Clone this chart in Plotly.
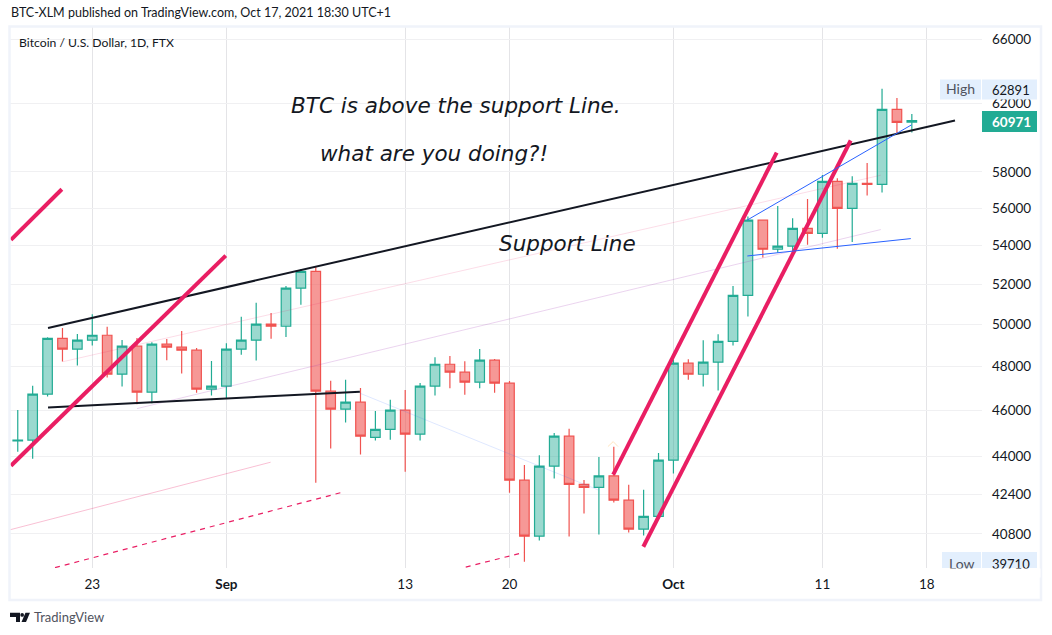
import pandas as pd
import plotly.graph_objects as go

FONT = "Lato"
BIG_FONT = "DejaVu Sans"
INK = "#131722"
GREEN = "#22ab94"
RED = "#f05350"

dates = pd.date_range("2021-08-18", "2021-10-17", freq="D").strftime("%Y-%m-%d").tolist()

opens = [44660, 44690, 46730, 49340, 48820, 49247, 49485, 47647, 48963, 46823, 49060, 48917, 48775, 46960,
         47095, 48820, 49247, 50020, 49920, 51800, 52660, 46868, 46054, 46368, 44810, 45160, 46010, 44950,
         47100, 48110, 47740, 47280, 48300, 47235, 42985, 40705, 43570, 44860, 42810, 42685, 43160, 42155,
         40985, 41495, 43825, 48160, 47645, 48205, 49190, 51445, 55340, 53800, 53960, 54900, 54640, 57470,
         55980, 57360, 57305, 61640, 60880]
highs = [46020, 47110, 49390, 49840, 49550, 50510, 49890, 49260, 49350, 49155, 49300, 49695, 48870, 48265,
         49105, 50380, 51070, 50570, 51915, 52780, 52890, 47340, 47385, 47010, 45975, 46480, 46920, 47240,
         48440, 48500, 48250, 48830, 48360, 47330, 43625, 44040, 45000, 45190, 42990, 43965, 44400, 42790,
         42580, 44135, 48315, 48345, 49240, 49535, 51915, 55540, 55360, 56110, 55440, 56500, 57830, 57645,
         57760, 58510, 62891, 62320, 61360]
lows = [44190, 43890, 46620, 48234, 48050, 48990, 47490, 47080, 46280, 46320, 48300, 47675, 46795, 46670,
        46550, 48560, 48280, 49320, 49400, 50976, 42880, 44322, 45460, 44065, 44670, 44710, 43340, 44670,
        46670, 47000, 46710, 47000, 46800, 42465, 39710, 40530, 43050, 40690, 41610, 40770, 42060, 40850,
        40730, 41475, 43260, 47395, 47080, 46900, 48990, 50390, 53370, 53620, 53680, 54030, 54410, 53820,
        54180, 56680, 56850, 60220, 60270]
closes = [44690, 46730, 49340, 48820, 49247, 49485, 47647, 48963, 46823, 49060, 48917, 48775, 46960, 47095,
          48820, 49247, 50020, 49920, 51800, 52660, 46868, 46054, 46368, 44860, 45160, 46010, 44950, 47100,
          48110, 47740, 47280, 48300, 47235, 42985, 40705, 43570, 44860, 42810, 42685, 43160, 42155, 40985,
          41495, 43825, 48160, 47645, 48205, 49190, 51445, 55340, 53800, 53960, 54900, 54640, 57470, 55980,
          57360, 57305, 61640, 60860, 60971]

price_ticks = [66000, 62000, 58000, 56000, 54000, 52000, 50000, 48000, 46000, 44000, 42400, 40800]
date_ticks = ["2021-08-23", "2021-09-01", "2021-09-13", "2021-09-20", "2021-10-01", "2021-10-11", "2021-10-18"]
date_labels = ["23", "<b>Sep</b>", "13", "20", "<b>Oct</b>", "11", "18"]

# drawings: (dates, prices, colour, width, dash)
support_upper_d = ["2021-08-20 00:45", "2021-10-19 21:30"]
support_upper_p = [49840, 60970]
support_lower_d = ["2021-08-20 00:45", "2021-09-09 23:00"]
support_lower_p = [46130, 46840]
pink_a_d = ["2021-08-17 13:00", "2021-08-31 23:00"]
pink_a_p = [43590, 53470]
pink_b_d = ["2021-08-17 13:00", "2021-08-20 23:00"]
pink_b_p = [54290, 57030]
pink_c_d = ["2021-09-26 23:00", "2021-10-07 22:20"]
pink_c_p = [43215, 59100]
pink_d_d = ["2021-09-28 23:30", "2021-10-12 21:30"]
pink_d_p = [40290, 59800]
blue_a_d = ["2021-10-05 23:00", "2021-10-16 23:15"]
blue_a_p = [55350, 60710]
blue_b_d = ["2021-10-05 23:00", "2021-10-16 22:20"]
blue_b_p = [53450, 54360]
faint_pink_d = ["2021-08-21 00:45", "2021-10-14 22:00"]
faint_pink_p = [48230, 57815]
faint_purple_d = ["2021-08-26 00:00", "2021-10-14 22:00"]
faint_purple_p = [46080, 54840]
faint_blue_d = ["2021-09-09 23:00", "2021-09-25 22:30"]
faint_blue_p = [46775, 42580]
thin_pink_d = ["2021-08-17 11:30", "2021-09-03 23:15"]
thin_pink_p = [40960, 43740]
dash_a_d = ["2021-08-20 12:00", "2021-09-08 23:00"]
dash_a_p = [39480, 42510]
dash_b_d = ["2021-09-17 01:30", "2021-09-20 23:15"]
dash_b_p = [39500, 40070]
chevron_d = ["2021-09-26 14:30", "2021-09-26 23:00", "2021-09-27 06:45"]
chevron_p = [44410, 44625, 44410]

PINK = "#e91e63"
drawings = [
    (faint_pink_d, faint_pink_p, "rgba(233,30,99,0.15)", 1, "solid"),
    (faint_purple_d, faint_purple_p, "rgba(156,39,176,0.2)", 1, "solid"),
    (faint_blue_d, faint_blue_p, "rgba(41,98,255,0.15)", 1, "solid"),
    (thin_pink_d, thin_pink_p, "rgba(233,30,99,0.28)", 1, "solid"),
    (dash_a_d, dash_a_p, PINK, 1.2, "5px,5px"),
    (dash_b_d, dash_b_p, PINK, 1.2, "5px,5px"),
    (chevron_d, chevron_p, "rgba(255,152,0,0.25)", 1, "solid"),
    (support_upper_d, support_upper_p, INK, 2, "solid"),
    (support_lower_d, support_lower_p, INK, 2, "solid"),
    (pink_a_d, pink_a_p, PINK, 4, "solid"),
    (pink_b_d, pink_b_p, PINK, 4, "solid"),
    (pink_c_d, pink_c_p, PINK, 4, "solid"),
    (pink_d_d, pink_d_p, PINK, 4, "solid"),
    (blue_a_d, blue_a_p, "#2962ff", 1, "solid"),
    (blue_b_d, blue_b_p, "#2962ff", 1, "solid"),
]

L, R, T, B = 10, 982, 26, 568
def px(x):
    return (x - L) / (R - L)
def py(y):
    return (B - y) / (B - T)

fig = go.Figure()
fig.add_trace(go.Candlestick(
    x=dates, open=opens, high=highs, low=lows, close=closes,
    increasing=dict(line=dict(color=GREEN, width=1.2), fillcolor="rgba(34,171,148,0.45)"),
    decreasing=dict(line=dict(color=RED, width=1.2), fillcolor="rgba(240,83,80,0.6)"),
    whiskerwidth=0, showlegend=False, hoverinfo="skip"))
for d, p, c, w, dash in drawings:
    fig.add_trace(go.Scatter(x=d, y=p, mode="lines", showlegend=False, hoverinfo="skip",
                             line=dict(color=c, width=w, dash=dash)))

def rect(x0, y0, x1, y1, fill, line=None, lw=0, **kw):
    return dict(type="rect", xref="paper", yref="paper", x0=px(x0), x1=px(x1), y0=py(y1), y1=py(y0),
                fillcolor=fill, line=dict(color=line or fill, width=lw), layer="above", **kw)

def poly(points, fill):
    path = "M " + " L ".join(f"{px(a):.5f},{py(b):.5f}" for a, b in points) + " Z"
    return dict(type="path", xref="paper", yref="paper", path=path, fillcolor=fill,
                line=dict(width=0), layer="above")

shapes = [
    rect(9.5, 26.5, 1041, 600, "rgba(0,0,0,0)", "#f0f3fa", 2.5),
    rect(940, 79.5, 981, 99.5, "#e3effd"),
    rect(982, 79.5, 1037, 99.5, "#e3effd"),
    rect(982, 111, 1037, 132, GREEN),
    rect(942, 552, 981, 568, "#e3effd"),
    rect(982, 552, 1037, 568, "#e3effd"),
    poly([(10, 612.7), (20, 612.7), (20, 622), (16, 622), (16, 617), (10, 617)], INK),
    poly([(25.5, 612.7), (30, 612.7), (26, 622), (21.5, 622)], INK),
    dict(type="circle", xref="paper", yref="paper", x0=px(20.3), x1=px(24), y0=py(616.8), y1=py(613),
         fillcolor=INK, line=dict(width=0), layer="above"),
]

def note(x, y, text, size=13, color=INK, anchor="left", italic=False, bold=False, family=FONT):
    return dict(xref="paper", yref="paper", x=px(x), y=py(y), text=text, showarrow=False,
                xanchor=anchor, yanchor="middle", borderpad=0,
                font=dict(family=family, size=size, color=color,
                          style="italic" if italic else "normal",
                          weight=700 if bold else 400))

annotations = [
    note(10, 13, "BTC-XLM published on TradingView.com, Oct 17, 2021 18:30 UTC+1", 12.5),
    note(18, 42, "Bitcoin / U.S. Dollar, 1D, FTX", 12.2),
    note(290, 105, "BTC is above the support Line.", 21.5, italic=True, family=BIG_FONT),
    note(319, 153, "what are you doing?!", 21.5, italic=True, family=BIG_FONT),
    note(498, 243, "Support Line", 21.5, italic=True, family=BIG_FONT),
    note(960.5, 89, "High", 14, "#50535e", "center"),
    note(1011, 89.5, "62891", 13, INK, "center"),
    note(1011, 122, "60971", 13.5, "#ffffff", "center", bold=True),
    note(961.5, 563.5, "Low", 14, "#50535e", "center"),
    note(1011, 563.5, "39710", 13, INK, "center"),
    dict(xref="paper", yref="paper", x=px(990), y=py(568), text=" ", showarrow=False, xanchor="center",
         yanchor="top", width=100, height=8, bgcolor="#ffffff", borderpad=0),
    note(33, 617, "TradingView", 13, "#50535e"),
]

fig.update_layout(
    width=1052, height=635, autosize=False,
    margin=dict(l=L, r=1052 - R, t=T, b=635 - B, pad=0),
    paper_bgcolor="#ffffff", plot_bgcolor="#ffffff",
    font=dict(family=FONT, size=13, color=INK),
    shapes=shapes, annotations=annotations, showlegend=False,
    boxgap=0.2, boxgroupgap=0.2,
    xaxis=dict(type="date", range=["2021-08-17 11:30", "2021-10-21 17:00"],
               rangeslider=dict(visible=False), tickmode="array", tickvals=date_ticks, ticktext=date_labels,
               showgrid=True, gridcolor="#e4e4e7", gridwidth=1, zeroline=False, showline=False,
               ticks="", ticklabelstandoff=6, tickfont=dict(size=13.5, color=INK)),
    yaxis=dict(type="log", side="right", range=[4.59622, 4.82503], tickmode="array",
               tickvals=price_ticks, ticktext=[str(v) for v in price_ticks],
               showgrid=True, gridcolor="#f0f0f2", gridwidth=1, zeroline=False, showline=False,
               ticks="", ticklabelstandoff=9, tickfont=dict(size=13.5, color=INK)),
)

fig.write_html("out.html", config={"displayModeBar": False},
               post_script="document.body.style.margin='0';document.body.style.overflow='hidden';")
